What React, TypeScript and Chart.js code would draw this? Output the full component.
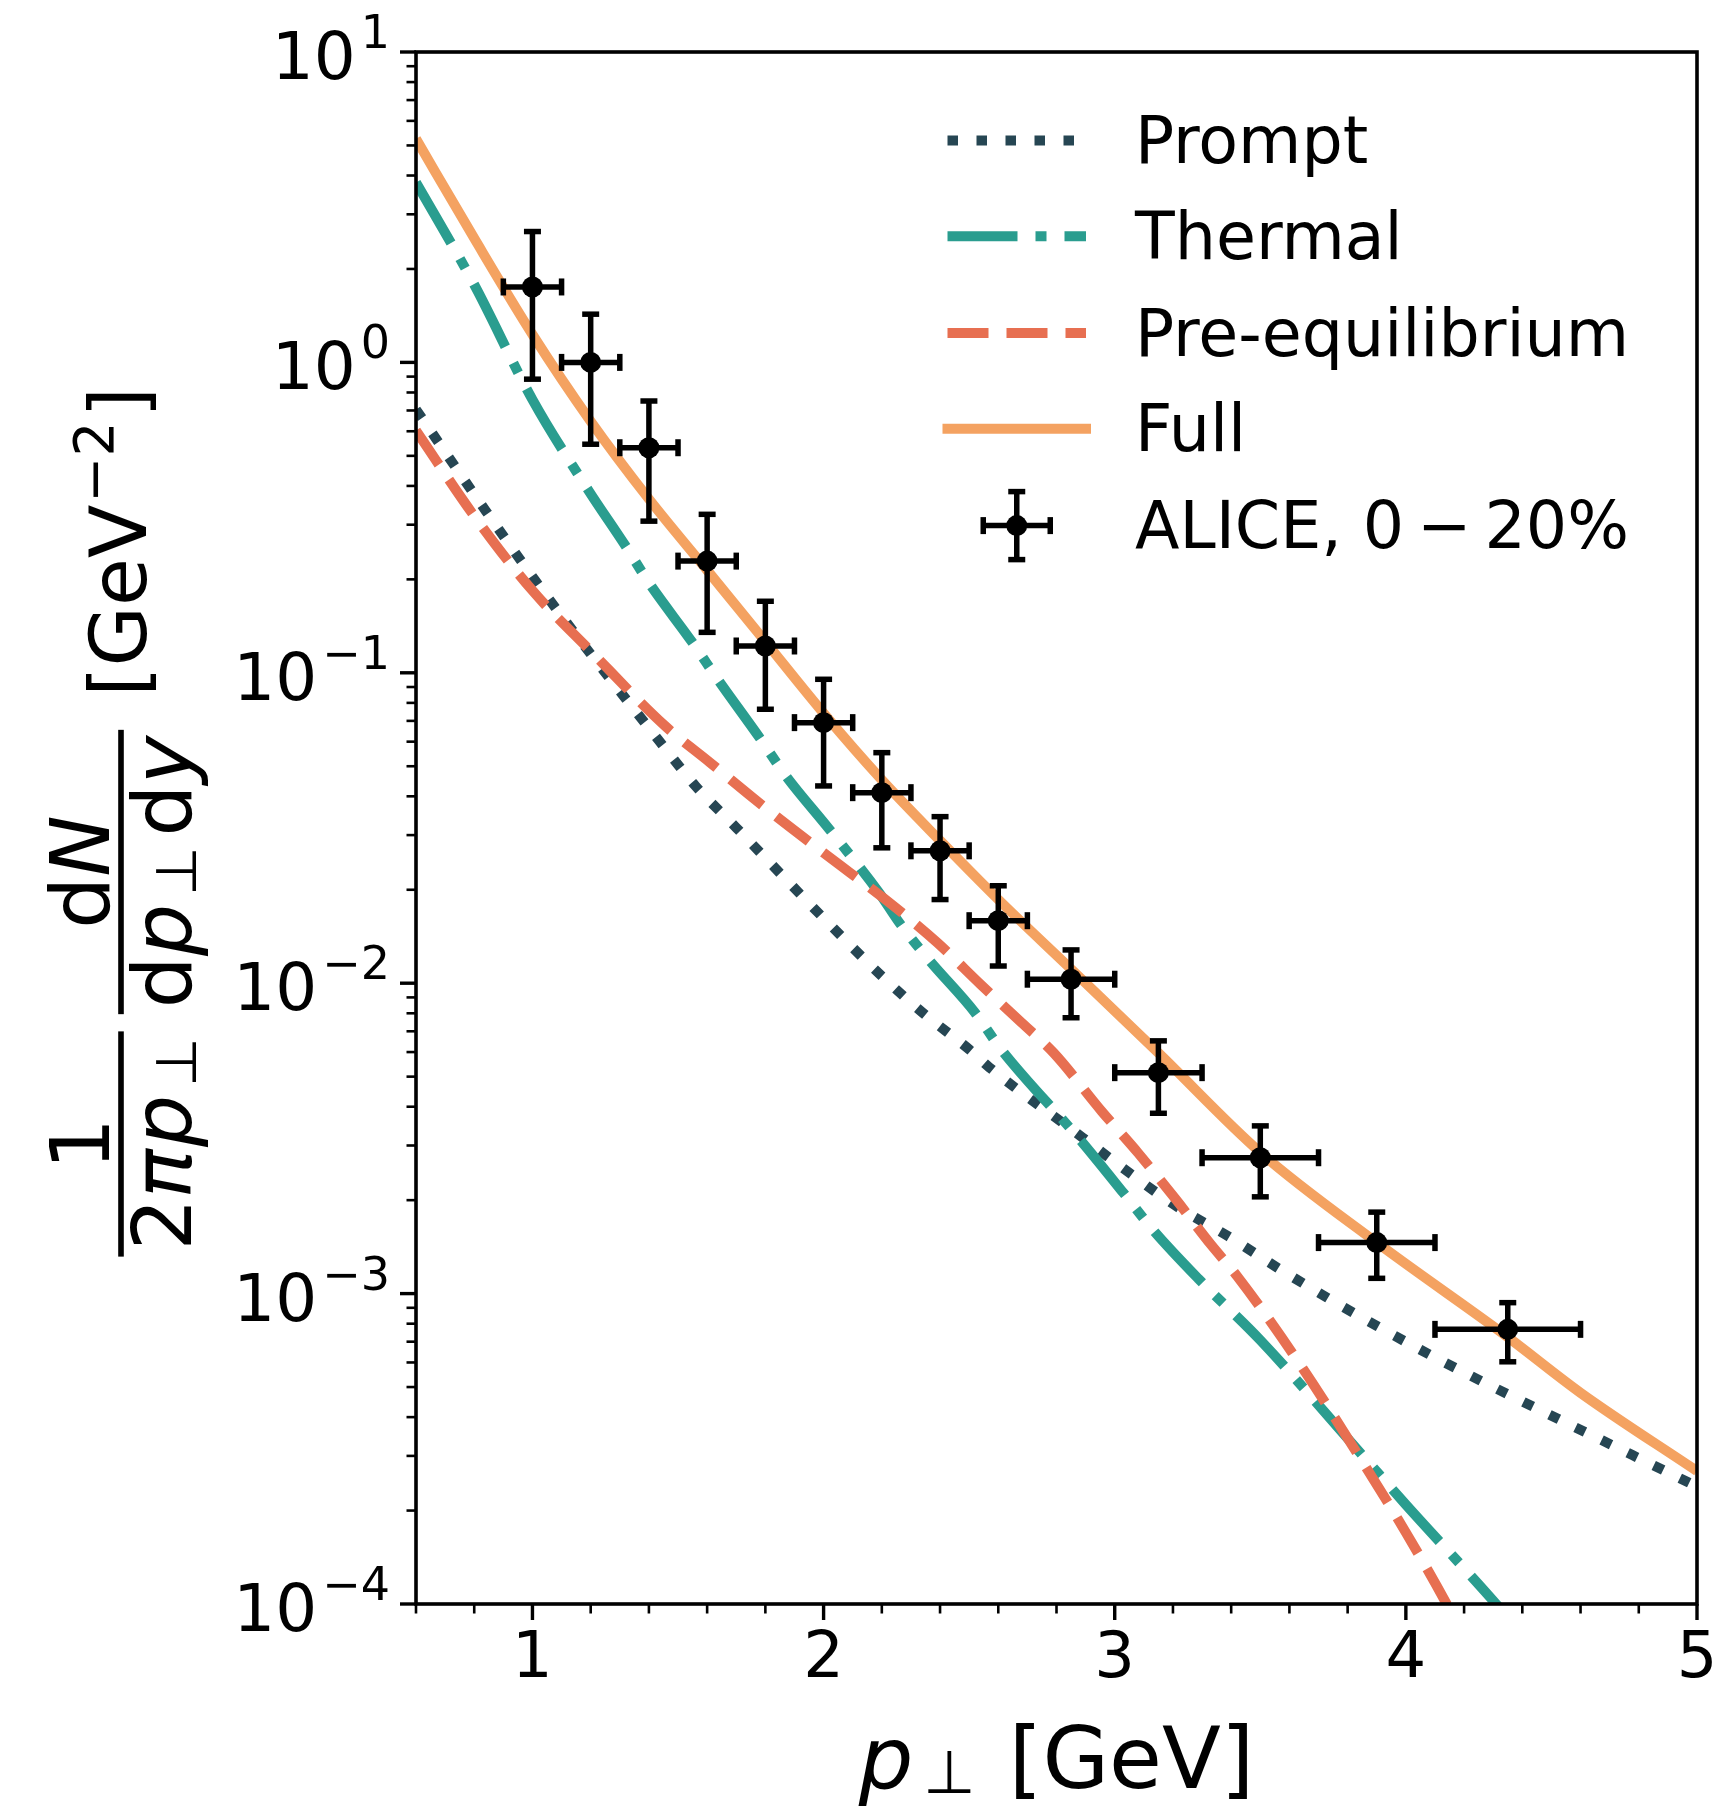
import React, { useEffect, useRef } from "react";
import { Chart, registerables } from "chart.js";

Chart.register(...registerables);

const W = 1721;
const H = 1808;

// ---- axis ticks ----
const xMajorTicks = [1, 2, 3, 4, 5];
const xMinorTicks = [0.6, 0.8, 1.2, 1.4, 1.6, 1.8, 2.2, 2.4, 2.6, 2.8, 3.2, 3.4, 3.6, 3.8, 4.2, 4.4, 4.6, 4.8];
const yDecadeExponents = [-4, -3, -2, -1, 0, 1];
const yMinorMantissas = [2, 3, 4, 5, 6, 7, 8, 9];

// ---- model curves ----
const promptX = [0.6, 0.84, 1.01, 1.2, 1.44, 1.56, 1.7, 2.0, 2.2, 2.34, 2.5, 2.57, 2.89, 3.05, 3.22, 3.39, 3.56, 3.73, 3.9, 4.08, 4.26, 4.35, 5.0];
const promptY = [0.705, 0.332, 0.198, 0.115, 0.0596, 0.0432, 0.0317, 0.0162, 0.01054, 0.00804, 0.00612, 0.00535, 0.00318, 0.00245, 0.00189, 0.00153, 0.00121, 0.00097, 0.000787, 0.000637, 0.000522, 0.000474, 0.000239];

const thermalX = [0.6, 0.8, 1.0, 1.19, 1.32, 1.4, 1.55, 1.64, 1.78, 1.87, 2.02, 2.19, 2.26, 2.36, 2.52, 2.61, 2.88, 3.03, 3.13, 3.29, 3.5, 3.85, 4.0, 4.31, 4.4];
const thermalY = [3.8, 1.78, 0.759, 0.39, 0.256, 0.195, 0.125, 0.0942, 0.0618, 0.0466, 0.0313, 0.0196, 0.01567, 0.01194, 0.00804, 0.00612, 0.00314, 0.00211, 0.00161, 0.00111, 0.000708, 0.000302, 0.000209, 0.0001, 0.0000794];

const preEqX = [0.6, 0.8, 1.0, 1.2, 1.455, 1.61, 1.764, 1.88, 2.0, 2.24, 2.39, 2.54, 2.68, 2.79, 2.955, 3.08, 3.21, 3.33, 3.42, 3.64, 3.85, 4.0, 4.14, 4.25];
const preEqY = [0.603, 0.32, 0.184, 0.1175, 0.0675, 0.0514, 0.0391, 0.0321, 0.0263, 0.01774, 0.01352, 0.0099, 0.00746, 0.00597, 0.00387, 0.00284, 0.00201, 0.00144, 0.00114, 0.000585, 0.000288, 0.00017, 0.0001, 0.000063];

const fullX = [0.6, 0.8, 1.0, 1.2, 1.4, 1.6, 1.8, 2.0, 2.2, 2.4, 2.6, 2.85, 3.15, 3.5, 3.9, 4.35, 4.6, 5.0];
const fullY = [5.25, 2.51, 1.23, 0.646, 0.363, 0.214, 0.126, 0.0741, 0.0452, 0.0288, 0.0186, 0.0111, 0.00596, 0.00285, 0.00146, 0.000724, 0.000479, 0.000268];

// ---- ALICE data ----
const aliceX = [1.0, 1.2, 1.4, 1.6, 1.8, 2.0, 2.2, 2.4, 2.6, 2.85, 3.15, 3.5, 3.9, 4.35];
const aliceY = [1.75, 1.0, 0.531, 0.229, 0.122, 0.0691, 0.0411, 0.0267, 0.0159, 0.0103, 0.00515, 0.00274, 0.00146, 0.000767];
const aliceYHigh = [2.64, 1.43, 0.751, 0.324, 0.17, 0.0953, 0.0553, 0.0344, 0.0206, 0.0128, 0.00652, 0.00347, 0.00183, 0.000935];
const aliceYLow = [0.883, 0.545, 0.308, 0.135, 0.0763, 0.0432, 0.0273, 0.0186, 0.01136, 0.00774, 0.00381, 0.00205, 0.00112, 0.000603];
const aliceXLow = [0.9, 1.1, 1.3, 1.5, 1.7, 1.9, 2.1, 2.3, 2.5, 2.7, 3.0, 3.3, 3.7, 4.1];
const aliceXHigh = [1.1, 1.3, 1.5, 1.7, 1.9, 2.1, 2.3, 2.5, 2.7, 3.0, 3.3, 3.7, 4.1, 4.6];

const legendLabels = ["Prompt", "Thermal", "Pre-equilibrium", "Full"];
const legendDataLabelParts = ["ALICE, 0", "\u2212", "20%"];

const C_PROMPT = "#264653";
const C_THERMAL = "#2A9D8F";
const C_PREEQ = "#E76F51";
const C_FULL = "#F4A261";

const LW = 10;
const DASH_DOT = [10.5, 18.5];
const DASH_DASHED = [41, 18];
const DASH_DASHDOT = [70, 18, 11, 18];

const FONT = '"DejaVu Sans"';
const TICK_FS = 66;
const LEG_FS = 65;
const XLAB_FS = 86;
const YLAB_FS = 82;
const UNIT_FS = 78;

const AREA = { left: 416, right: 1697, top: 52, bottom: 1604 };

type Run = { t: string; size: number; italic?: boolean; shift?: number; gap?: number };

function fontOf(r: Run) {
  return `${r.italic ? "italic " : ""}${r.size}px ${FONT}`;
}
function runsWidth(ctx: CanvasRenderingContext2D, runs: Run[]) {
  let w = 0;
  for (const r of runs) {
    ctx.font = fontOf(r);
    w += (r.gap || 0) + ctx.measureText(r.t).width;
  }
  return w;
}
function drawRuns(ctx: CanvasRenderingContext2D, runs: Run[], x0: number, baseline: number) {
  let x = x0;
  for (const r of runs) {
    x += r.gap || 0;
    ctx.font = fontOf(r);
    ctx.fillText(r.t, x, baseline + (r.shift || 0));
    x += ctx.measureText(r.t).width;
  }
}
function drawRunsRotated(ctx: CanvasRenderingContext2D, runs: Run[], xBaseline: number, yCenter: number) {
  const w = runsWidth(ctx, runs);
  ctx.save();
  ctx.translate(xBaseline, yCenter);
  ctx.rotate(-Math.PI / 2);
  ctx.textAlign = "left";
  ctx.textBaseline = "alphabetic";
  drawRuns(ctx, runs, -w / 2, 0);
  ctx.restore();
  return w;
}

function line(ctx: CanvasRenderingContext2D, x1: number, y1: number, x2: number, y2: number) {
  ctx.beginPath();
  ctx.moveTo(x1, y1);
  ctx.lineTo(x2, y2);
  ctx.stroke();
}

const errorBarPlugin = {
  id: "errorbars",
  afterDatasetsDraw(chart: any) {
    const { ctx, scales } = chart;
    const xs = scales.x;
    const ys = scales.y;
    ctx.save();
    ctx.strokeStyle = "#000";
    ctx.lineWidth = 5.5;
    ctx.lineCap = "butt";
    const cap = 8.5;
    for (let i = 0; i < aliceX.length; i++) {
      const px = xs.getPixelForValue(aliceX[i]);
      const py = ys.getPixelForValue(aliceY[i]);
      const xl = xs.getPixelForValue(aliceXLow[i]);
      const xh = xs.getPixelForValue(aliceXHigh[i]);
      const yl = ys.getPixelForValue(aliceYLow[i]);
      const yh = ys.getPixelForValue(aliceYHigh[i]);
      line(ctx, xl, py, xh, py);
      line(ctx, px, yh, px, yl);
      line(ctx, xl, py - cap, xl, py + cap);
      line(ctx, xh, py - cap, xh, py + cap);
      line(ctx, px - cap, yh, px + cap, yh);
      line(ctx, px - cap, yl, px + cap, yl);
    }
    ctx.restore();
  },
};

const decorPlugin = {
  id: "decor",
  beforeDraw(chart: any) {
    const ctx = chart.ctx;
    ctx.save();
    ctx.fillStyle = "#fff";
    ctx.fillRect(0, 0, chart.width, chart.height);
    ctx.restore();
  },
  afterDraw(chart: any) {
    const { ctx, chartArea, scales } = chart;
    const xs = scales.x;
    const ys = scales.y;
    const { left, right, top, bottom } = chartArea;
    ctx.save();
    ctx.fillStyle = "#000";
    ctx.strokeStyle = "#000";

    // ticks
    const majLen = 16, minLen = 9.5;
    ctx.lineCap = "butt";
    ctx.lineWidth = 3.4;
    for (const v of xMajorTicks) {
      const px = xs.getPixelForValue(v);
      line(ctx, px, bottom, px, bottom + majLen);
    }
    for (const e of yDecadeExponents) {
      const py = ys.getPixelForValue(Math.pow(10, e));
      line(ctx, left, py, left - majLen, py);
    }
    ctx.lineWidth = 2.6;
    for (const v of xMinorTicks) {
      const px = xs.getPixelForValue(v);
      line(ctx, px, bottom, px, bottom + minLen);
    }
    for (const e of yDecadeExponents) {
      if (e === 1) continue;
      for (const m of yMinorMantissas) {
        const py = ys.getPixelForValue(m * Math.pow(10, e));
        line(ctx, left, py, left - minLen, py);
      }
    }

    // spines
    ctx.lineWidth = 3.6;
    ctx.lineCap = "square";
    ctx.strokeRect(left, top, right - left, bottom - top);

    // x tick labels
    ctx.font = `64px ${FONT}`;
    ctx.textAlign = "center";
    ctx.textBaseline = "alphabetic";
    for (const v of xMajorTicks) {
      ctx.fillText(String(v), xs.getPixelForValue(v), 1677);
    }

    // y tick labels 10^n
    const supFs = Math.round(TICK_FS * 0.7);
    ctx.textAlign = "left";
    for (const e of yDecadeExponents) {
      const py = ys.getPixelForValue(Math.pow(10, e));
      const expStr = e < 0 ? "\u2212" + String(-e) : String(e);
      const runs: Run[] = [
        { t: "10", size: TICK_FS },
        { t: expStr, size: supFs, shift: -31, gap: 5 },
      ];
      const w = runsWidth(ctx, runs);
      drawRuns(ctx, runs, 390 - w, py + 27);
    }

    // x axis label
    const xRuns: Run[] = [
      { t: "p", size: XLAB_FS, italic: true },
      { t: "\u22A5", size: Math.round(XLAB_FS * 0.7), shift: 5, gap: 10 },
      { t: " [GeV]", size: XLAB_FS, gap: 6 },
    ];
    const xw = runsWidth(ctx, xRuns);
    drawRuns(ctx, xRuns, (left + right) / 2 - xw / 2, 1788);

    // y axis label (rotated mathtext)
    const sub = Math.round(YLAB_FS * 0.7);
    const barX = 121;
    const numBase = 109;
    const denBase = 191;
    // fraction 1: 1 / (2 pi p_perp)
    const f1y = 1144;
    drawRunsRotated(ctx, [{ t: "1", size: YLAB_FS }], numBase, f1y);
    const d1 = drawRunsRotated(
      ctx,
      [
        { t: "2", size: YLAB_FS },
        { t: "\u03C0", size: YLAB_FS, italic: true },
        { t: "p", size: YLAB_FS, italic: true, gap: 2 },
        { t: "\u22A5", size: sub, shift: 5, gap: 8 },
      ],
      denBase,
      f1y
    );
    ctx.fillRect(barX - 2.8, f1y - d1 / 2 - 6, 5.6, d1 + 12);
    // fraction 2: dN / (dp_perp dy)
    const f2y = 872;
    drawRunsRotated(
      ctx,
      [
        { t: "d", size: YLAB_FS },
        { t: "N", size: YLAB_FS, italic: true },
      ],
      numBase,
      f2y
    );
    const d2 = drawRunsRotated(
      ctx,
      [
        { t: "d", size: YLAB_FS },
        { t: "p", size: YLAB_FS, italic: true },
        { t: "\u22A5", size: sub, shift: 5, gap: 8 },
        { t: "d", size: YLAB_FS, gap: 10 },
        { t: "y", size: YLAB_FS, italic: true },
      ],
      denBase,
      f2y
    );
    ctx.fillRect(barX - 2.8, f2y - d2 / 2 - 6, 5.6, d2 + 12);
    // units
    drawRunsRotated(
      ctx,
      [
        { t: "[GeV", size: UNIT_FS },
        { t: "\u22122", size: Math.round(UNIT_FS * 0.7), shift: -33, gap: 2 },
        { t: "]", size: UNIT_FS, gap: 4 },
      ],
      146,
      542
    );

    // legend
    const rowsY = [140.6, 236.3, 333.1, 428.8, 525.6];
    const lx0 = 947.5, lx1 = 1086, tx = 1135;
    const styles = [
      { c: C_PROMPT, d: DASH_DOT, cap: "butt" },
      { c: C_THERMAL, d: DASH_DASHDOT, cap: "butt" },
      { c: C_PREEQ, d: DASH_DASHED, cap: "butt" },
      { c: C_FULL, d: [] as number[], cap: "square" },
    ];
    for (let i = 0; i < 4; i++) {
      ctx.save();
      ctx.strokeStyle = styles[i].c;
      ctx.lineWidth = LW;
      ctx.lineCap = styles[i].cap as CanvasLineCap;
      ctx.setLineDash(styles[i].d);
      line(ctx, lx0, rowsY[i], lx1, rowsY[i]);
      ctx.restore();
    }
    // errorbar handle
    {
      const cx = (lx0 + lx1) / 2, cy = rowsY[4];
      ctx.lineWidth = 5.5;
      ctx.lineCap = "butt";
      const hx = 33.5, hy = 34, cap = 8.5;
      line(ctx, cx - hx, cy, cx + hx, cy);
      line(ctx, cx, cy - hy, cx, cy + hy);
      line(ctx, cx - hx, cy - cap, cx - hx, cy + cap);
      line(ctx, cx + hx, cy - cap, cx + hx, cy + cap);
      line(ctx, cx - cap, cy - hy, cx + cap, cy - hy);
      line(ctx, cx - cap, cy + hy, cx + cap, cy + hy);
      ctx.beginPath();
      ctx.arc(cx, cy, 10.5, 0, Math.PI * 2);
      ctx.fill();
    }
    ctx.font = `${LEG_FS}px ${FONT}`;
    ctx.textAlign = "left";
    ctx.textBaseline = "alphabetic";
    const legOff = 0.729 * LEG_FS / 2 - 1;
    for (let i = 0; i < legendLabels.length; i++) {
      ctx.fillText(legendLabels[i], tx, rowsY[i] + legOff);
    }
    drawRuns(
      ctx,
      [
        { t: legendDataLabelParts[0], size: LEG_FS },
        { t: legendDataLabelParts[1], size: LEG_FS, gap: 13 },
        { t: legendDataLabelParts[2], size: LEG_FS, gap: 13 },
      ],
      tx,
      rowsY[4] + legOff
    );

    ctx.restore();
  },
};

function pts(xs: number[], ys: number[]) {
  return xs.map((x, i) => ({ x, y: ys[i] }));
}

export default function App() {
  const ref = useRef<HTMLCanvasElement>(null);
  useEffect(() => {
    document.body.style.margin = "0";
    const canvas = ref.current!;
    const common = {
      type: "line" as const,
      pointRadius: 0,
      fill: false,
      borderWidth: LW,
      cubicInterpolationMode: "monotone" as const,
      clip: 0,
    };
    const chart = new Chart(canvas, {
      type: "line",
      data: {
        datasets: [
          { ...common, label: "Prompt", data: pts(promptX, promptY), borderColor: C_PROMPT, borderDash: DASH_DOT, order: 5 },
          { ...common, label: "Thermal", data: pts(thermalX, thermalY), borderColor: C_THERMAL, borderDash: DASH_DASHDOT, order: 4 },
          { ...common, label: "Pre-equilibrium", data: pts(preEqX, preEqY), borderColor: C_PREEQ, borderDash: DASH_DASHED, order: 3 },
          { ...common, label: "Full", data: pts(fullX, fullY), borderColor: C_FULL, order: 2 },
          {
            type: "scatter" as const,
            label: "ALICE, 0-20%",
            data: pts(aliceX, aliceY),
            pointRadius: 10.5,
            pointBackgroundColor: "#000",
            pointBorderWidth: 0,
            showLine: false,
            order: 1,
          } as any,
        ] as any,
      },
      options: {
        responsive: false,
        animation: false,
        devicePixelRatio: 1,
        events: [],
        layout: { padding: { left: 0, right: W - AREA.right, top: AREA.top, bottom: 0 } },
        plugins: { legend: { display: false }, tooltip: { enabled: false } },
        scales: {
          x: {
            type: "linear",
            min: 0.6,
            max: 5,
            grid: { display: false },
            border: { display: false },
            ticks: { display: false },
            afterFit: (s: any) => {
              s.height = H - AREA.bottom;
            },
          },
          y: {
            type: "logarithmic",
            min: 1e-4,
            max: 10,
            grid: { display: false },
            border: { display: false },
            ticks: { display: false },
            afterFit: (s: any) => {
              s.width = AREA.left;
            },
          },
        },
      } as any,
      plugins: [errorBarPlugin, decorPlugin],
    });
    return () => chart.destroy();
  }, []);
  return (
    <div style={{ position: "absolute", left: 0, top: 0, width: W, height: H, background: "#fff" }}>
      <canvas ref={ref} width={W} height={H} style={{ display: "block" }} />
    </div>
  );
}
